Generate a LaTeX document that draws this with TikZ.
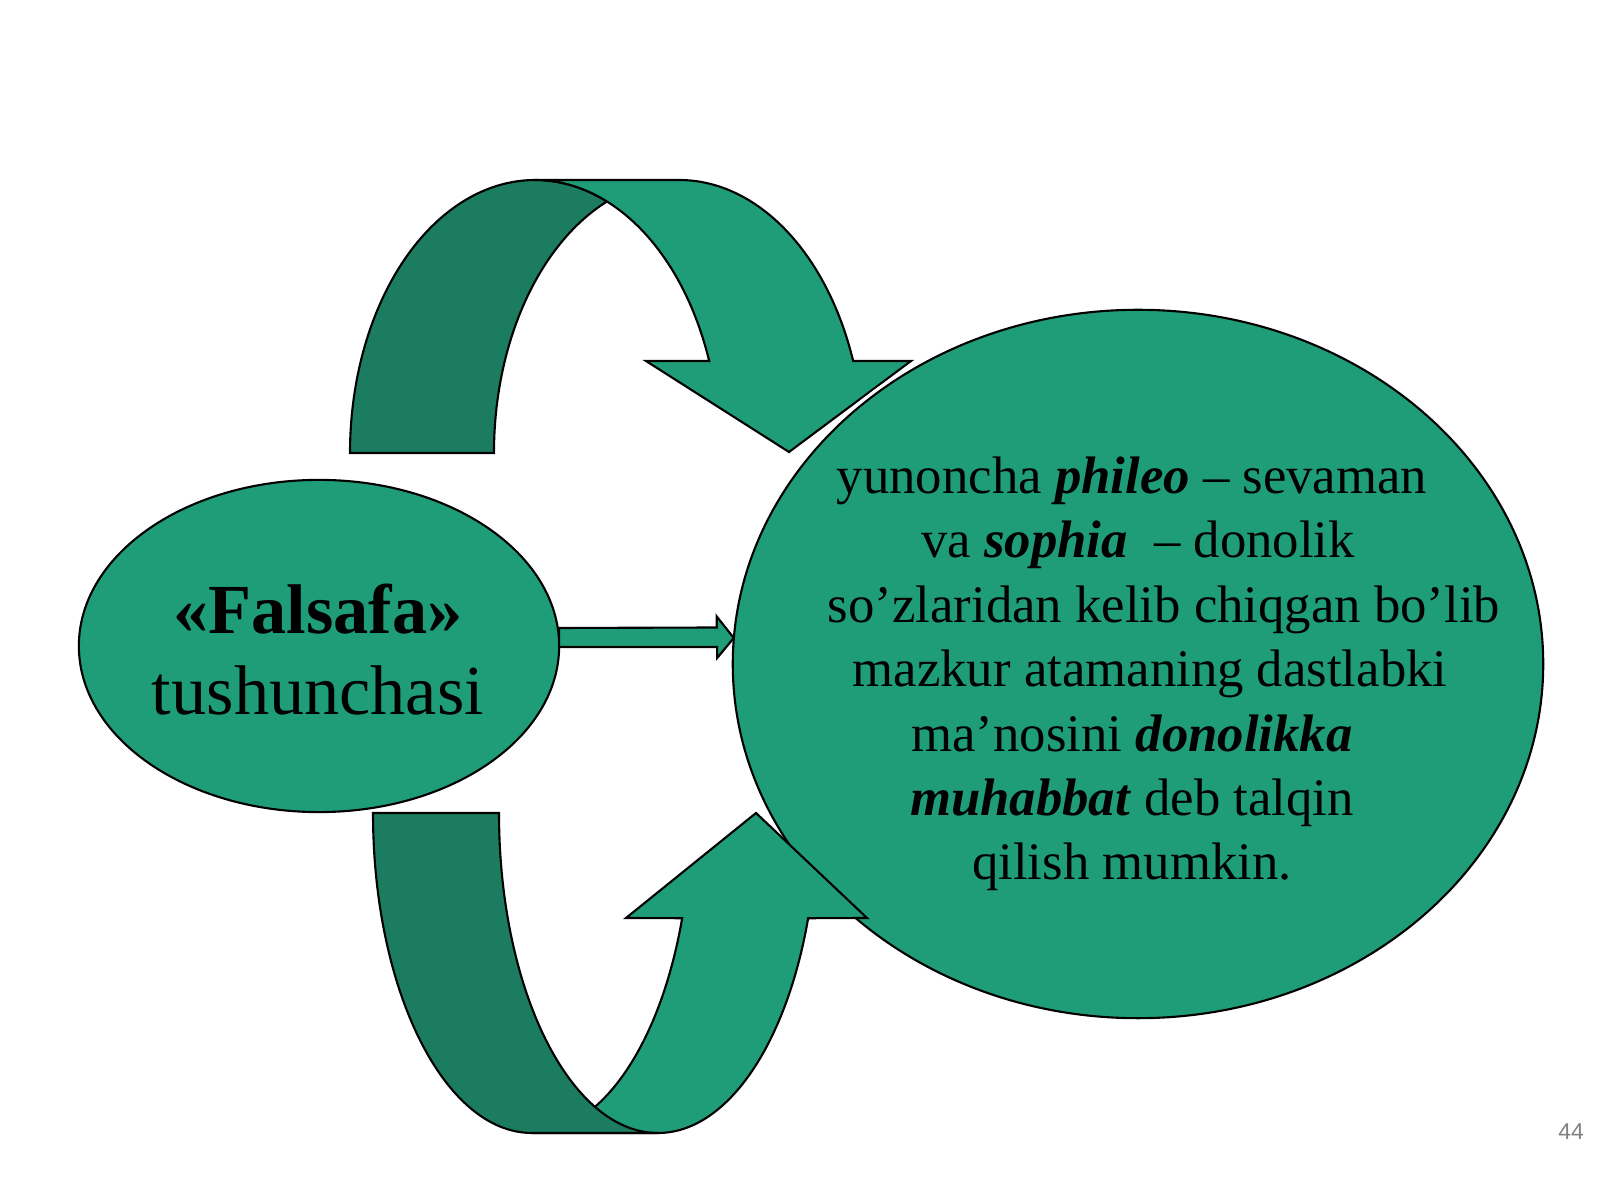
\documentclass[tikz,border=0pt]{standalone}
\usepackage{fontspec}
\setmainfont{Liberation Serif}
\setsansfont{Liberation Sans}
\usepackage{tikz}
\usetikzlibrary{shapes.geometric,calc}
\definecolor{bandlight}{RGB}{31,157,121}
\definecolor{banddark}{RGB}{27,124,96}

\begin{document}
\begin{tikzpicture}[x=0.01cm, y=0.01cm,
	outline/.style={draw=black, line width=0.6pt, line join=miter},
	front/.style={outline, fill=bandlight},
	back/.style={outline, fill=banddark},
	bubble/.style={ellipse, front, inner sep=0pt, outer sep=0pt,
		preaction={draw=white, line width=2.4pt}}]
  \useasboundingbox[fill=white] (0,0) rectangle (1600,1200);
  \coordinate (t1) at (535,747);
  \coordinate (t3) at (679,747);
  \coordinate (b1) at (532,387);
  \coordinate (b3) at (658,387);
  \draw[back] ($(t1)+(-185,0)$) arc[start angle=180, end angle=67.1, x radius=185, y radius=273]
    arc[start angle=112.9, end angle=180, x radius=185, y radius=273] -- cycle;
  \draw[front] ($(t1)+(0,273)$) -- ($(t3)+(0,273)$)
    arc[start angle=90, end angle=19.7, x radius=185, y radius=273]
    -- (911,839) -- (789,748) -- (646,839) -- ($(t1)+(19.7:185 and 273)$)
    arc[start angle=19.7, end angle=90, x radius=185, y radius=273] -- cycle;
  \node[bubble, minimum width=4.8cm, minimum height=3.32cm] (falsafa) at (319,554) {};
  \node[bubble, minimum width=8.1cm, minimum height=7.08cm] (meaning) at (1138,536) {};
  \draw[front] ($(b1)+(0,-320)$) -- ($(b3)+(0,-320)$)
    arc[start angle=-90, end angle=-19.2, x radius=159, y radius=320]
    -- (867,282) -- (756,387) -- (626,282) -- ($(b1)+(-19.2:159 and 320)$)
    arc[start angle=-19.2, end angle=-90, x radius=159, y radius=320] -- cycle;
  \draw[back] ($(b1)+(-159,0)$) arc[start angle=180, end angle=270, x radius=159, y radius=320]
    -- ($(b3)+(0,-320)$) arc[start angle=270, end angle=180, x radius=159, y radius=320] -- cycle;
  \coordinate (tail) at ($(falsafa.east)+(0,8.5)$);
  \coordinate (tip) at ($(meaning.west)+(1,26)$);
  \draw[front] ($(tail)+(0,-9.5)$) -- ++(158,0) -- ++(0,-11) -- (tip) -- ++(-17,21.5)
    -- ++(0,-11) -- ($(tail)+(0,9.5)$) -- cycle;
  \node[font=\fontsize{20}{23}\selectfont, align=center] (falsafatext) at (318,550)
    {\textbf{«Falsafa»}\\tushunchasi};
  \node[font=\fontsize{15}{18.3}\selectfont, align=center] (meaningtext) at (1132,526)
    {yunoncha \textbf{\textit{phileo}} – sevaman\\
     \hspace*{0.12cm}va \textbf{\textit{sophia}} \ – donolik\\
     \hspace*{0.64cm}so’zlaridan kelib chiqgan bo’lib\\
     \hspace*{0.36cm}mazkur atamaning dastlabki\\
     ma’nosini \textbf{\textit{donolikka}}\\
     \textbf{\textit{muhabbat}} deb talqin\\
     qilish mumkin.};
  \node[font=\sffamily\fontsize{6.5}{8}\selectfont, text=gray] (page) at (1571,68) {44};
\end{tikzpicture}
\end{document}
